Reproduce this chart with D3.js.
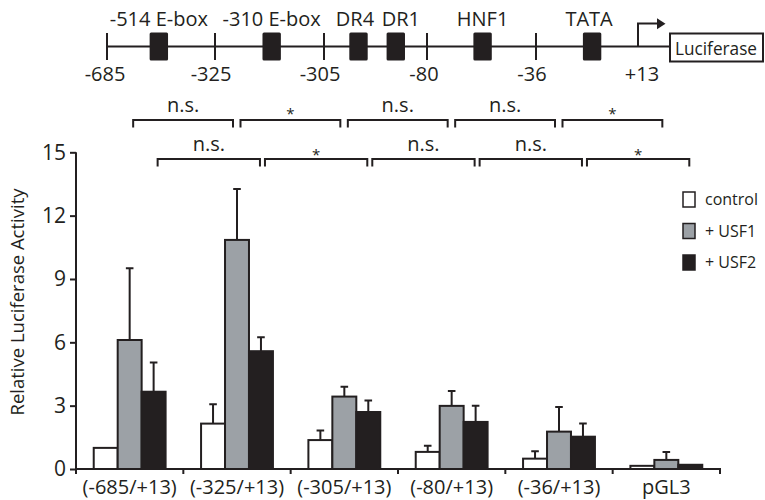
<!DOCTYPE html>
<html>
<head>
<meta charset="utf-8">
<script src="https://cdn.jsdelivr.net/npm/d3@7"></script>
<style>
  body { margin: 0; background: #fff; }
  svg { display: block; }
  text { font-family: "Open Sans", sans-serif; fill: #231f20; }
</style>
</head>
<body>
<svg id="chart" width="765" height="500"></svg>
<script>
// Promoter constructs and luciferase readings
const categories = ["(-685/+13)", "(-325/+13)", "(-305/+13)", "(-80/+13)", "(-36/+13)", "pGL3"];
const seriesNames = ["control", "+ USF1", "+ USF2"];
const controlValues = [1.0, 2.15, 1.37, 0.81, 0.49, 0.15];
const controlErrors = [0, 0.92, 0.45, 0.29, 0.35, 0];
const usf1Values = [6.11, 10.85, 3.43, 2.99, 1.77, 0.43];
const usf1Errors = [3.40, 2.41, 0.47, 0.71, 1.17, 0.37];
const usf2Values = [3.66, 5.58, 2.70, 2.23, 1.53, 0.20];
const usf2Errors = [1.38, 0.66, 0.54, 0.76, 0.62, 0];
const yTicks = [0, 3, 6, 9, 12, 15];

// Significance between neighbouring constructs
const sigUSF1 = ["n.s.", "*", "n.s.", "n.s.", "*"];
const sigUSF2 = ["n.s.", "*", "n.s.", "n.s.", "*"];

// Promoter map labels
const promoterSites = ["-685", "-325", "-305", "-80", "-36", "+13"];
const promoterElements = ["-514 E-box", "-310 E-box", "DR4", "DR1", "HNF1", "TATA"];

const ink = "#231f20";
const fills = ["#ffffff", "#9ca1a6", ink];
const svg = d3.select("#chart");

// ---------- promoter map ----------
const mapY = 46.5;
const slotX = d3.scaleLinear().domain([0, 1, 2, 3, 4, 5]).range([107, 215, 324, 427, 536, 638]);
const elementSlots = [0.48, 1.52, 2.335, 2.697, 3.51, 4.55];
const elementLabelShift = [0, 0, -3.5, 5, 0, -3];
const siteLabelShift = [-2, -4, -4, -3, -4, 4];
const map = svg.append("g");

map.append("line")
  .attr("x1", slotX(0)).attr("x2", 670).attr("y1", mapY).attr("y2", mapY)
  .attr("stroke", ink).attr("stroke-width", 2);

map.selectAll(".site").data(promoterSites.slice(0, 5)).join("line")
  .attr("x1", (d, i) => slotX(i)).attr("x2", (d, i) => slotX(i))
  .attr("y1", mapY - 13.5).attr("y2", mapY + 13.5)
  .attr("stroke", ink).attr("stroke-width", 2);

map.selectAll(".siteLabel").data(promoterSites).join("text")
  .attr("x", (d, i) => slotX(i) + siteLabelShift[i]).attr("y", 81)
  .attr("text-anchor", "middle").style("font-size", "20px").text(d => d);

map.selectAll(".element").data(promoterElements).join("rect")
  .attr("x", (d, i) => slotX(elementSlots[i]) - 9.2).attr("y", mapY - 14)
  .attr("width", 18.4).attr("height", 28).attr("rx", 1.5)
  .attr("fill", ink);

map.selectAll(".elementLabel").data(promoterElements).join("text")
  .attr("x", (d, i) => slotX(elementSlots[i]) + elementLabelShift[i]).attr("y", 26)
  .attr("text-anchor", "middle").style("font-size", "20px").text(d => d);

// transcription start arrow
const tss = slotX(5);
map.append("path")
  .attr("d", `M${tss},${mapY} V23.5 H658`)
  .attr("fill", "none").attr("stroke", ink).attr("stroke-width", 2);
map.append("path")
  .attr("d", `M657,18.3 L665.5,23.8 L657,29.3 Z`).attr("fill", ink);

// reporter gene box
map.append("rect")
  .attr("x", 670).attr("y", 33.5).attr("width", 93).attr("height", 28)
  .attr("fill", "#fff").attr("stroke", ink).attr("stroke-width", 2);
map.append("text")
  .attr("x", 675).attr("y", 54.5).style("font-size", "19px")
  .attr("textLength", 82).attr("lengthAdjust", "spacingAndGlyphs")
  .text("Luciferase");

// ---------- bar chart ----------
const plot = { left: 76, right: 720, top: 152.3, bottom: 469 };
const x0 = d3.scaleBand().domain(categories).range([plot.left, plot.right]);
const x1 = d3.scaleBand().domain(seriesNames).range([0, x0.bandwidth()]).paddingOuter(0.74);
const y = d3.scaleLinear().domain([0, 15]).range([plot.bottom, plot.top]);

const values = [controlValues, usf1Values, usf2Values];
const errors = [controlErrors, usf1Errors, usf2Errors];
const rows = categories.map((c, i) => seriesNames.map((s, k) => ({
  cat: c, series: s, k, value: values[k][i], err: errors[k][i]
})));

const groups = svg.append("g").selectAll("g").data(rows).join("g")
  .attr("transform", d => `translate(${x0(d[0].cat)},0)`);

// error whiskers (upper only)
groups.selectAll(".err").data(d => d.filter(e => e.err > 0)).join("path")
  .attr("d", d => {
    const cx = x1(d.series) + x1.bandwidth() / 2;
    const top = y(d.value + d.err);
    return `M${cx},${y(d.value)} V${top} M${cx - 3.8},${top} H${cx + 3.8}`;
  })
  .attr("fill", "none").attr("stroke", ink).attr("stroke-width", 2);

groups.selectAll(".bar").data(d => d).join("rect")
  .attr("x", d => x1(d.series))
  .attr("y", d => y(d.value))
  .attr("width", x1.bandwidth())
  .attr("height", d => y(0) - y(d.value))
  .attr("fill", d => fills[d.k])
  .attr("stroke", ink).attr("stroke-width", 2);

// y axis
const yAxis = svg.append("g").attr("transform", `translate(${plot.left},0)`)
  .call(d3.axisLeft(y).tickValues(yTicks).tickSize(6).tickPadding(4).tickFormat(d3.format("d")));
yAxis.select(".domain").attr("d", `M0,${plot.top}V${plot.bottom}`).attr("stroke", ink).attr("stroke-width", 2);
yAxis.selectAll(".tick line").attr("stroke", ink).attr("stroke-width", 2);
yAxis.selectAll(".tick text").style("font-size", "21px").attr("fill", ink)
  .style("font-family", "'Open Sans', sans-serif");

// x axis with ticks at construct boundaries
const xAxis = svg.append("g");
xAxis.append("line")
  .attr("x1", plot.left - 1).attr("x2", plot.right + 1).attr("y1", plot.bottom).attr("y2", plot.bottom)
  .attr("stroke", ink).attr("stroke-width", 2);
const bounds = categories.map(c => x0(c)).concat([plot.right]);
xAxis.selectAll(".xt").data(bounds).join("line")
  .attr("x1", d => d).attr("x2", d => d).attr("y1", plot.bottom).attr("y2", plot.bottom + 5)
  .attr("stroke", ink).attr("stroke-width", 2);
xAxis.selectAll(".xl").data(categories).join("text")
  .attr("x", d => x0(d) + x0.bandwidth() / 2).attr("y", 494)
  .attr("text-anchor", "middle").style("font-size", "20px").text(d => d);

// y axis title
svg.append("text")
  .attr("transform", `translate(24,302) rotate(-90)`)
  .attr("text-anchor", "middle").style("font-size", "18.5px")
  .text("Relative Luciferase Activity");

// ---------- significance brackets ----------
function brackets(labels, seriesName, lineY, textY, starY, x1Off, x2Off) {
  const cx = c => x0(c) + x1(seriesName) + x1.bandwidth() / 2;
  const g = svg.append("g");
  labels.forEach((lab, i) => {
    const a = cx(categories[i]) + x1Off;
    const b = cx(categories[i + 1]) + x2Off;
    g.append("path")
      .attr("d", `M${a},${lineY + 7.5} V${lineY} H${b} V${lineY + 7.5}`)
      .attr("fill", "none").attr("stroke", ink).attr("stroke-width", 2);
    const isStar = lab === "*";
    g.append("text")
      .attr("x", (a + b) / 2).attr("y", isStar ? starY : textY)
      .attr("text-anchor", "middle")
      .style("font-size", isStar ? "15px" : "20px")
      .text(lab);
  });
}
brackets(sigUSF1, "+ USF1", 120, 112, 119, 3.5, -4);
brackets(sigUSF2, "+ USF2", 159, 150.5, 160, 4, -1);

// ---------- legend ----------
const legend = svg.append("g");
seriesNames.forEach((s, k) => {
  const ly = 192 + k * 31.5;
  legend.append("rect")
    .attr("x", 683).attr("y", ly).attr("width", 12).attr("height", 15)
    .attr("fill", fills[k]).attr("stroke", ink).attr("stroke-width", 1.5);
  legend.append("text")
    .attr("x", 705).attr("y", ly + 13).style("font-size", "16px").text(s);
});
</script>
</body>
</html>
